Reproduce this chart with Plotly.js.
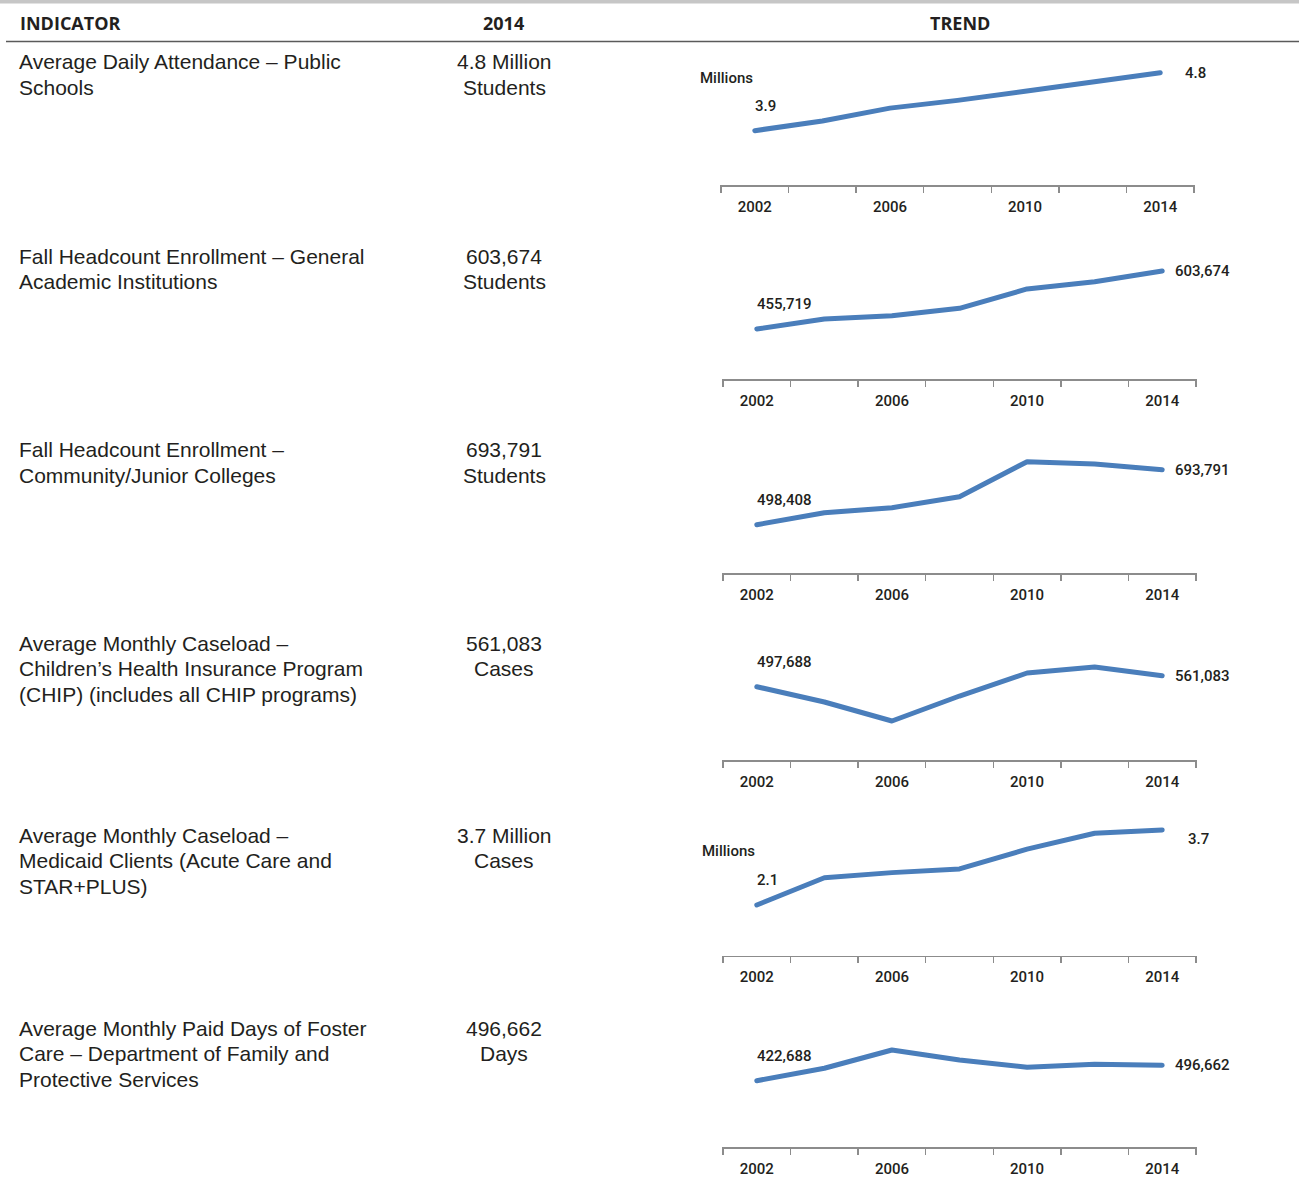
<!DOCTYPE html>
<html>
<head>
<meta charset="utf-8">
<script src="https://cdn.plot.ly/plotly-3.0.1.min.js"></script>
<style>
  html, body { margin: 0; padding: 0; background: #ffffff; }
  #chart { width: 1299px; height: 1178px; }
  .scatterlayer path.js-line { stroke-linecap: round; stroke-linejoin: round; }
</style>
</head>
<body>
<div id="chart"></div>
<script>
// ---------------- DATA ----------------
const years = [2002, 2004, 2006, 2008, 2010, 2012, 2014];
const tickYears = [2002, 2006, 2010, 2014];

const attendance       = [3.9, 4.05, 4.25, 4.37, 4.51, 4.66, 4.8];          // millions
const gaiEnrollment    = [455719, 481000, 489700, 508500, 557800, 576400, 603674];
const cjcEnrollment    = [498408, 541000, 558800, 597900, 722200, 714000, 693791];
const chipCaseload     = [497688, 409500, 300000, 444100, 576700, 611200, 561083];
const medicaidCaseload = [2.1, 2.68, 2.79, 2.87, 3.29, 3.63, 3.7];          // millions
const fosterDays       = [422688, 482300, 570200, 522100, 487100, 501500, 496662];

const headers = ["INDICATOR", "2014", "TREND"];

const indicatorLines = [
  ["Average Daily Attendance – Public", "Schools"],
  ["Fall Headcount Enrollment – General", "Academic Institutions"],
  ["Fall Headcount Enrollment –", "Community/Junior Colleges"],
  ["Average Monthly Caseload –", "Children’s Health Insurance Program", "(CHIP) (includes all CHIP programs)"],
  ["Average Monthly Caseload –", "Medicaid Clients (Acute Care and", "STAR+PLUS)"],
  ["Average Monthly Paid Days of Foster", "Care – Department of Family and", "Protective Services"]
];

const value2014Lines = [
  ["4.8 Million", "Students"],
  ["603,674", "Students"],
  ["693,791", "Students"],
  ["561,083", "Cases"],
  ["3.7 Million", "Cases"],
  ["496,662", "Days"]
];

const seriesList = [attendance, gaiEnrollment, cjcEnrollment, chipCaseload, medicaidCaseload, fosterDays];
const inMillions = [true, false, false, false, true, false];
const unitLabel = "Millions";

// ---------------- LAYOUT (pixel geometry) ----------------
const W = 1299, H = 1178;
const px = x => x / W;
const py = y => 1 - y / H;

const rowTextY   = [62, 256, 450, 643, 835, 1028];
const lineGap    = 25.6;
const axisBottom = [185, 379.3, 573.3, 760, 955.7, 1147.3];
const axisLeft   = [720, 722, 722, 722, 722, 722];
const axisWidth  = 475;
const plotHeight = 130;
const yRanges = [
  [3.057, 5.074],
  [327400, 659000],
  [325800, 787500],
  [75300, 824500],
  [1.018, 3.791],
  [102700, 727200]
];
const endXShift = [23, 11, 11, 11, 24, 11];
const endYShift = [0, 0, 0, 0, -9, 0];
const unitPos = [[726, 78], [0, 0], [0, 0], [0, 0], [728, 851]];

const textColor = "#231f20";
const tableFont = "Liberation Sans, Arial, sans-serif";
const narrowFont = "Roboto, Noto Sans, sans-serif";
const narrowSize = 15;
const lineColor = "#4a7ebb";

const fmt = (v, mil) => mil ? v.toFixed(1) : v.toLocaleString("en-US");

const traces = [];
const layout = {
  width: W, height: H,
  margin: { l: 0, r: 0, t: 0, b: 0 },
  paper_bgcolor: "#ffffff",
  plot_bgcolor: "rgba(0,0,0,0)",
  showlegend: false,
  annotations: [],
  shapes: [
    { type: "rect", xref: "paper", yref: "paper", x0: 0, x1: 1, y0: py(3.5), y1: py(0),
      fillcolor: "#c6c6c6", line: { width: 0 } },
    { type: "line", xref: "paper", yref: "paper", x0: px(6), x1: 1, y0: py(41.5), y1: py(41.5),
      line: { color: "#5a5a5a", width: 1.5 } }
  ]
};

// headers
const headerX = [[18, "left"], [503, "center"], [960, "center"]];
headers.forEach((h, i) => {
  layout.annotations.push({
    xref: "paper", yref: "paper", x: px(headerX[i][0]), y: py(23),
    xanchor: headerX[i][1], yanchor: "middle", showarrow: false, text: "<b>" + h + "</b>",
    font: { family: "Open Sans, sans-serif", size: 18, color: textColor }
  });
});

seriesList.forEach((vals, i) => {
  const n = i + 1;
  const xa = n === 1 ? "xaxis" : "xaxis" + n;
  const ya = n === 1 ? "yaxis" : "yaxis" + n;
  const xr = n === 1 ? "x" : "x" + n;
  const yr = n === 1 ? "y" : "y" + n;

  traces.push({
    type: "scatter", mode: "lines", x: years, y: vals, xaxis: xr, yaxis: yr,
    line: { color: lineColor, width: 5 }, hoverinfo: "skip"
  });

  layout[xa] = {
    domain: [px(axisLeft[i]), px(axisLeft[i] + axisWidth)],
    anchor: yr,
    range: [2000.97, 2015.03],
    showgrid: false, zeroline: false,
    showline: true, linecolor: "#8c8c8c", linewidth: 1.5,
    tickmode: "array", tickvals: tickYears, ticktext: tickYears.map(String),
    ticks: "outside", ticklen: 0, tickcolor: "#8c8c8c",
    ticklabelstandoff: 7,
    tickfont: { family: narrowFont, size: narrowSize, color: textColor, weight: 500 },
    minor: { tickmode: "linear", tick0: 2001, dtick: 2, ticks: "outside", ticklen: 6,
             tickcolor: "#8c8c8c", tickwidth: 1.5, showgrid: false },
    fixedrange: true
  };
  layout[ya] = {
    domain: [py(axisBottom[i]), py(axisBottom[i] - plotHeight)],
    anchor: xr,
    range: yRanges[i],
    visible: false, showgrid: false, zeroline: false, fixedrange: true
  };

  // first / last value labels
  layout.annotations.push({
    xref: xr, yref: yr, x: years[0], y: vals[0], xanchor: "left", yanchor: "middle",
    yshift: 25, xshift: -2, showarrow: false, text: fmt(vals[0], inMillions[i]),
    font: { family: narrowFont, size: narrowSize, color: textColor, weight: 500 }
  });
  const last = vals.length - 1;
  layout.annotations.push({
    xref: xr, yref: yr, x: years[last], y: vals[last], xanchor: "left", yanchor: "middle",
    xshift: endXShift[i], yshift: endYShift[i], showarrow: false, text: fmt(vals[last], inMillions[i]),
    font: { family: narrowFont, size: narrowSize, color: textColor, weight: 500 }
  });

  if (inMillions[i]) {
    layout.annotations.push({
      xref: "paper", yref: "paper", x: px(unitPos[i][0]), y: py(unitPos[i][1]),
      xanchor: "center", yanchor: "middle", showarrow: false, text: unitLabel,
      font: { family: narrowFont, size: narrowSize, color: textColor, weight: 500 }
    });
  }

  // table text
  indicatorLines[i].forEach((t, k) => {
    layout.annotations.push({
      xref: "paper", yref: "paper", x: px(17), y: py(rowTextY[i] + k * lineGap),
      xanchor: "left", yanchor: "middle", showarrow: false, text: t,
      font: { family: tableFont, size: 21, color: textColor }
    });
  });
  value2014Lines[i].forEach((t, k) => {
    layout.annotations.push({
      xref: "paper", yref: "paper", x: px(504), y: py(rowTextY[i] + k * lineGap),
      xanchor: "center", yanchor: "middle", showarrow: false, text: t,
      font: { family: tableFont, size: 21, color: textColor }
    });
  });
});

Plotly.newPlot("chart", traces, layout, { staticPlot: true, displayModeBar: false });
</script>
</body>
</html>
